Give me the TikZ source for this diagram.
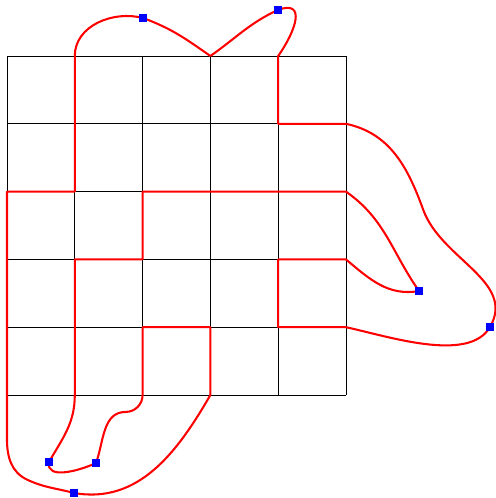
\documentclass[tikz,border=0pt]{standalone}
\begin{document}
\begin{tikzpicture}[x=1.5cm,y=1.5cm,line join=round,
    cell line/.style={black,line width=0.6pt},
    seam/.style={red,line width=1.3pt},
    marker/.style={rectangle,fill=blue,inner sep=0pt,minimum size=0.16cm}]
            \useasboundingbox (-0.103,-1.519) rectangle (7.198,5.826);
            \coordinate (p1) at (2.006,5.56);
            \coordinate (p2) at (3.997,5.68);
            \coordinate (p3) at (6.077,1.534);
            \coordinate (p4) at (7.124,1.003);
            \coordinate (p5) at (0.619,-0.988);
            \coordinate (p6) at (1.313,-1.003);
            \coordinate (p7) at (0.988,-1.445);
            \coordinate (r1) at (6.14,2.73);
            \coordinate (s1) at (1.75,-0.25);
            \coordinate (s2) at (0.3,-1.25);

            \foreach \i in {0,...,5} {
                \draw[cell line] (\i,0) -- (\i,5);
                \draw[cell line] (0,\i) -- (5,\i);
            }

            \draw[seam] (3,5) to[out=35,in=205] (p2) to[out=20,in=55,looseness=1.7] (4,5)
                -- (4,4) -- (5,4) to[out=-12,in=110] (r1) to[out=-70,in=60] (p4)
                to[out=-120,in=-12,looseness=0.75] (5,1) -- (4,1) -- (4,2) -- (5,2)
                to[out=-40,in=190] (p3) to[out=125,in=-35] (5,3)
                -- (2,3) -- (2,2) -- (1,2) -- (1,0) to[out=-90,in=60] (p5)
                to[out=-100,in=205] (p6) to[out=70,in=180] (s1) to[out=0,in=-90] (2,0)
                -- (2,1) -- (3,1) -- (3,0) to[out=-120,in=-10] (p7)
                to[out=165,in=-25] (s2) to[out=155,in=-90] (0,-0.65)
                -- (0,3) -- (1,3) -- (1,5) to[out=90,in=165] (p1) to[out=-20,in=145] (3,5);

            \foreach \i in {1,...,7}
                \node[marker] (m\i) at (p\i) {};
\end{tikzpicture}
\end{document}
